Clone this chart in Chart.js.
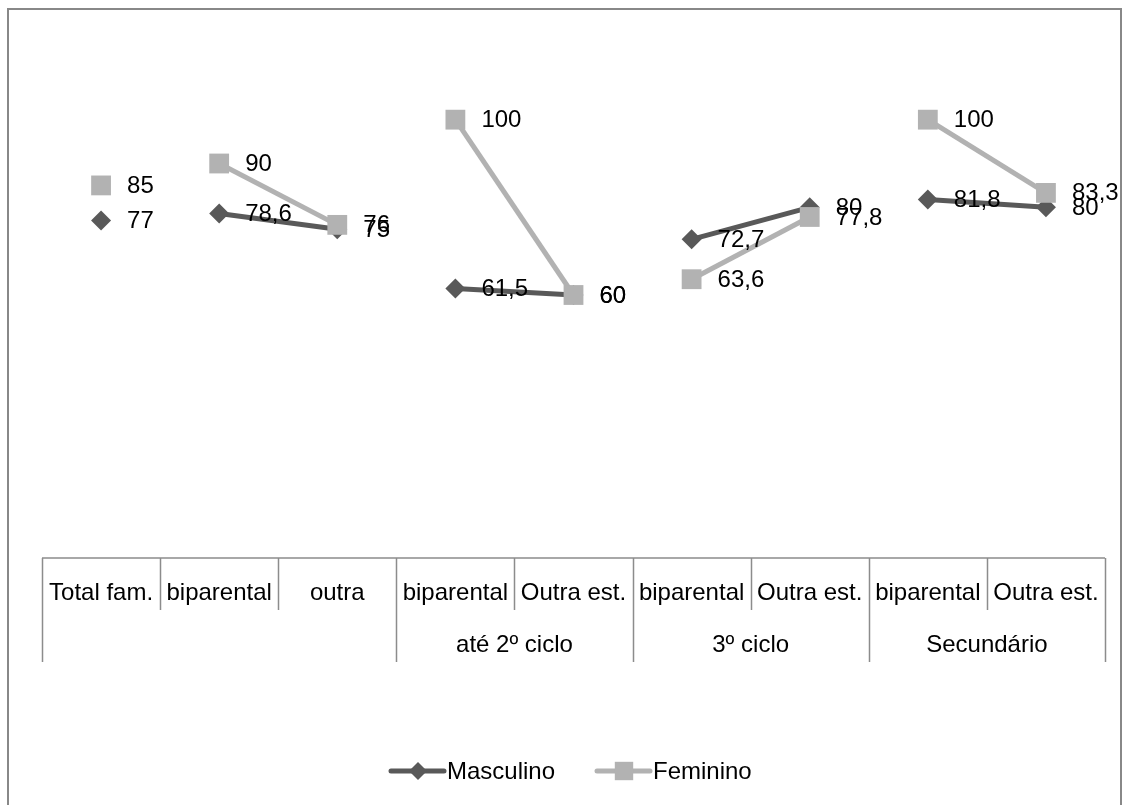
<!DOCTYPE html>
<html>
<head>
<meta charset="utf-8">
<script src="https://cdn.jsdelivr.net/npm/chart.js@4"></script>
<style>
  body { margin: 0; background: #fff; }
  canvas { display: block; }
</style>
</head>
<body>
<canvas id="grafico" width="1129" height="805"></canvas>
<script>
// categorias (nivel 1) e grupos (nivel 2)
var categorias = ['Total fam.', 'biparental', 'outra', 'biparental', 'Outra est.', 'biparental', 'Outra est.', 'biparental', 'Outra est.'];
var grupos = ['até 2º ciclo', '3º ciclo', 'Secundário'];
var inicioGrupos = [3, 5, 7];
var masculino = [77, 78.6, 75, 61.5, 60, 72.7, 80, 81.8, 80];
var feminino = [85, 90, 76, 100, 60, 63.6, 77.8, 100, 83.3];
var etiquetasM = ['77', '78,6', '75', '61,5', '60', '72,7', '80', '81,8', '80'];
var etiquetasF = ['85', '90', '76', '100', '60', '63,6', '77,8', '100', '83,3'];
// pontos ligados com o seguinte
var ligados = [1, 3, 5, 7];

var corM = '#595959';
var corF = '#b2b2b2';
var fonte = '"Liberation Sans", Arial, sans-serif';

function segmento(cor) {
   return function (ctx) {
      return ligados.indexOf(ctx.p0DataIndex) >= 0 ? cor : 'rgba(0,0,0,0)';
   };
}

var pluginDesenho = {
   id: 'desenho',
   beforeDraw: function (chart) {
      var c = chart.ctx;
      c.save();
      c.fillStyle = '#fff';
      c.fillRect(0, 0, chart.width, chart.height);
      c.strokeStyle = '#888';
      c.lineWidth = 2;
      c.strokeRect(8, 9, 1113, 830);
      c.restore();
   },
   afterDraw: function (chart) {
      var c = chart.ctx;
      var x = chart.scales.x;
      var y = chart.scales.y;
      var area = chart.chartArea;
      var base = y.getPixelForValue(0);
      var larg = (area.right - area.left) / categorias.length;
      c.save();
      // eixo e tabela de categorias
      c.strokeStyle = '#8c8c8c';
      c.lineWidth = 1.5;
      c.beginPath();
      c.moveTo(area.left, base);
      c.lineTo(area.right, base);
      for (var i = 0; i <= categorias.length; i++) {
         var px = Math.round(area.left + i * larg) + 0.5;
         var longa = i === 0 || i === categorias.length || inicioGrupos.indexOf(i) >= 0;
         c.moveTo(px, base);
         c.lineTo(px, base + (longa ? 104 : 52));
      }
      c.stroke();

      c.fillStyle = '#000';
      c.font = '24px ' + fonte;
      c.textAlign = 'center';
      c.textBaseline = 'middle';
      categorias.forEach(function (cat, i) {
         c.fillText(cat, x.getPixelForValue(i), base + 35);
      });
      grupos.forEach(function (g, k) {
         var a = inicioGrupos[k];
         var centro = (x.getPixelForValue(a) + x.getPixelForValue(a + 1)) / 2;
         c.fillText(g, centro, base + 87);
      });

      // etiquetas de dados
      c.textAlign = 'left';
      [[masculino, etiquetasM], [feminino, etiquetasF]].forEach(function (par) {
         par[0].forEach(function (v, i) {
            c.fillText(par[1][i], x.getPixelForValue(i) + 26, y.getPixelForValue(v) + 1);
         });
      });

      // legenda
      var ly = 771;
      var itens = [
         { texto: 'Masculino', cor: corM, forma: 'rectRot', raio: 9, x0: 391 },
         { texto: 'Feminino', cor: corF, forma: 'rect', raio: 13, x0: 597 }
      ];
      itens.forEach(function (it) {
         c.strokeStyle = it.cor;
         c.lineWidth = 5;
         c.lineCap = 'round';
         c.beginPath();
         c.moveTo(it.x0, ly);
         c.lineTo(it.x0 + 53, ly);
         c.stroke();
         c.fillStyle = it.cor;
         Chart.helpers.drawPoint(c, { pointStyle: it.forma, radius: it.raio, borderWidth: 0 }, it.x0 + 27, ly);
         c.fillStyle = '#000';
         c.font = '24px ' + fonte;
         c.textAlign = 'left';
         c.fillText(it.texto, it.x0 + 56, ly + 1);
      });
      c.restore();
   }
};

new Chart(document.getElementById('grafico').getContext('2d'), {
   type: 'line',
   data: {
      labels: categorias,
      datasets: [{
         label: 'Masculino',
         data: masculino,
         borderColor: corM,
         backgroundColor: corM,
         borderWidth: 5,
         pointStyle: 'rectRot',
         pointRadius: 10,
         pointBorderWidth: 0,
         order: 2,
         segment: { borderColor: segmento(corM) }
      }, {
         label: 'Feminino',
         data: feminino,
         borderColor: corF,
         backgroundColor: corF,
         borderWidth: 5,
         pointStyle: 'rect',
         pointRadius: 14,
         pointBorderWidth: 0,
         order: 1,
         segment: { borderColor: segmento(corF) }
      }]
   },
   options: {
      responsive: false,
      animation: false,
      layout: { padding: { left: 42, right: 24, top: 32, bottom: 247 } },
      scales: {
         x: { display: false, offset: true },
         y: { display: false, min: 0, max: 120 }
      },
      plugins: {
         legend: { display: false },
         tooltip: { enabled: false }
      }
   },
   plugins: [pluginDesenho]
});
</script>
</body>
</html>
